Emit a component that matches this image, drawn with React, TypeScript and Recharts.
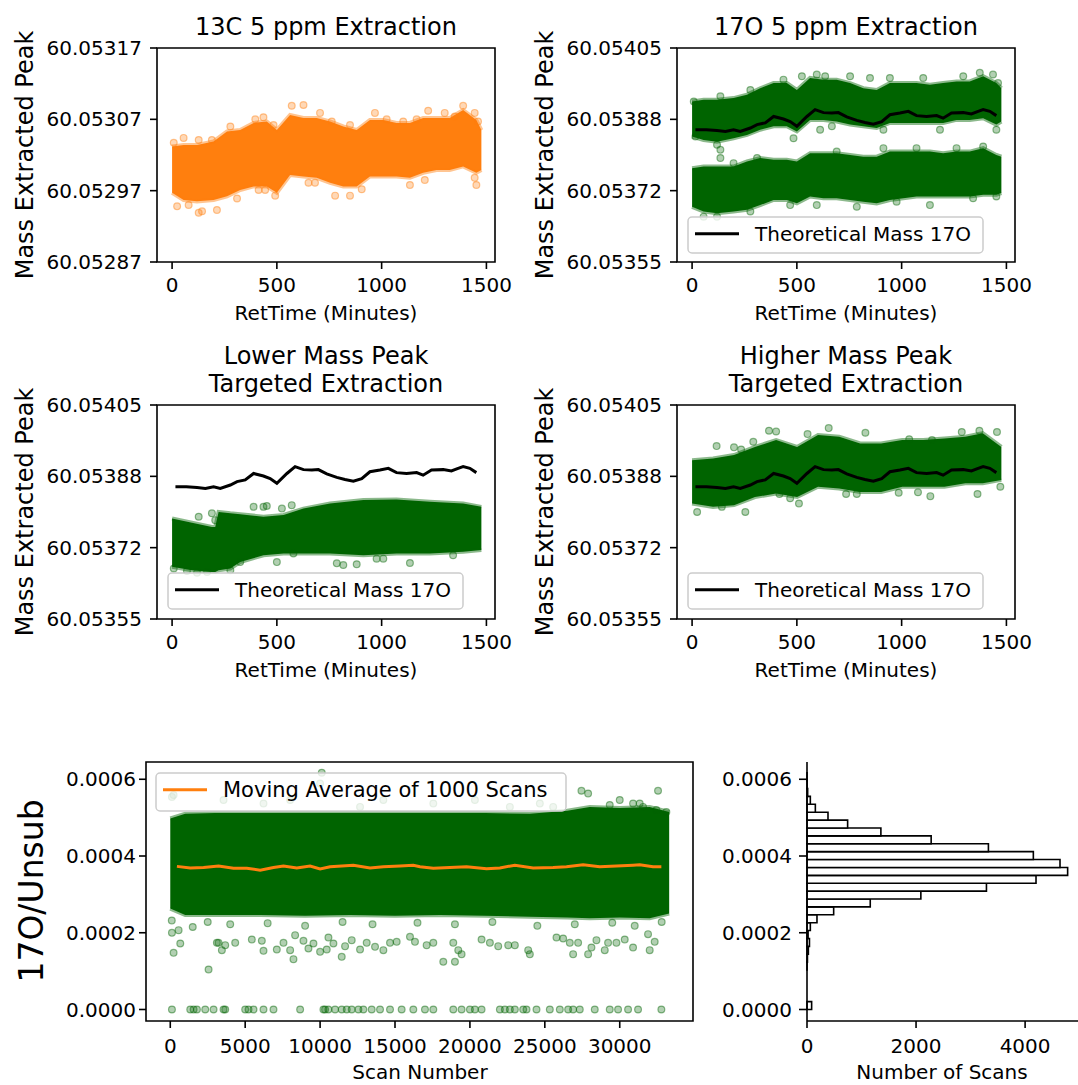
import React from "react";
import {
  Area,
  ComposedChart,
  Line,
  ReferenceArea,
  Scatter,
  XAxis,
  YAxis,
} from "recharts";

const GREEN = "#006400";
const ORANGE = "#ff7f0e";
const FONT = "DejaVu Sans";

// retention time panels
const retDomain: [number, number] = [-72, 1541];
const retTicks = [0, 500, 1000, 1500];
const mass13CDomain: [number, number] = [60.05287, 60.05317];
const mass13CTicks = [60.05287, 60.05297, 60.05307, 60.05317];
const mass17ODomain: [number, number] = [60.05355, 60.05405];
const mass17OTicks = [60.05355, 60.0537167, 60.0538833, 60.05405];

// 13C 5 ppm cloud (dense core edges)
const rt13C = [0, 55, 119, 198, 262, 325, 389, 452, 500, 563, 627, 690, 754, 817, 881, 944, 1008, 1071, 1135, 1198, 1262, 1325, 1389, 1452, 1476];
const hi13C = [60.053032, 60.053034, 60.053034, 60.053039, 60.053053, 60.053055, 60.053065, 60.053067, 60.053055, 60.053076, 60.053072, 60.053072, 60.053067, 60.05306, 60.053055, 60.053069, 60.053069, 60.053065, 60.053065, 60.053072, 60.053072, 60.053072, 60.053083, 60.053069, 60.053055];
const lo13C = [60.052967, 60.052957, 60.052955, 60.052957, 60.052962, 60.052971, 60.052976, 60.052976, 60.052967, 60.052992, 60.05299, 60.052988, 60.052981, 60.052976, 60.052976, 60.05299, 60.05299, 60.05299, 60.052988, 60.052995, 60.052999, 60.052999, 60.053004, 60.052995, 60.052999];
const out13C: [number, number][] = [
  [8, 60.053037], [55, 60.053044], [127, 60.053041], [190, 60.053041], [278, 60.05306], [397, 60.05307],
  [436, 60.053073], [484, 60.053062], [571, 60.053089], [627, 60.05309], [706, 60.053079], [762, 60.053067],
  [849, 60.053062], [968, 60.053079], [1024, 60.05307], [1103, 60.053067], [1167, 60.05307], [1222, 60.053082],
  [1301, 60.053079], [1349, 60.053074], [1389, 60.053089], [1444, 60.053079], [1460, 60.053067],
  [24, 60.052948], [79, 60.05295], [127, 60.052939], [143, 60.052941], [214, 60.052943], [310, 60.052959],
  [413, 60.052971], [444, 60.052971], [492, 60.052963], [651, 60.052981], [682, 60.052981], [778, 60.052963],
  [849, 60.052963], [905, 60.052972], [1135, 60.052978], [1206, 60.052985], [1452, 60.052978], [1444, 60.052988],
];

// 17O 5 ppm: two clouds
const rt17O = rt13C;
const hi17Oup = [60.053925, 60.053929, 60.053929, 60.053933, 60.053941, 60.053956, 60.053968, 60.053968, 60.053952, 60.05398, 60.053976, 60.053976, 60.053968, 60.053956, 60.053952, 60.053968, 60.053968, 60.053968, 60.053964, 60.053968, 60.053972, 60.053972, 60.053984, 60.053968, 60.053956];
const lo17Oup = [60.053843, 60.053835, 60.053831, 60.053839, 60.053847, 60.053859, 60.053867, 60.053867, 60.053855, 60.053882, 60.053882, 60.053878, 60.053871, 60.053867, 60.053863, 60.053875, 60.053875, 60.053875, 60.053875, 60.053875, 60.053882, 60.053882, 60.053886, 60.053871, 60.053878];
const hi17Olow = [60.053769, 60.053773, 60.053773, 60.053773, 60.053785, 60.053793, 60.053789, 60.053789, 60.053785, 60.053804, 60.053804, 60.053804, 60.0538, 60.053796, 60.053796, 60.053808, 60.053808, 60.053808, 60.053808, 60.053804, 60.053808, 60.053808, 60.053816, 60.0538, 60.053796];
const lo17Olow = [60.053679, 60.053668, 60.053664, 60.053668, 60.053672, 60.053683, 60.053695, 60.053695, 60.053687, 60.053703, 60.053699, 60.053699, 60.053695, 60.053691, 60.053687, 60.053695, 60.053699, 60.053703, 60.053703, 60.053703, 60.053703, 60.053703, 60.053707, 60.053707, 60.053711];
const out17O: [number, number][] = [
  [8, 60.053925], [135, 60.053937], [278, 60.053952], [436, 60.053976], [524, 60.053984], [595, 60.053988],
  [635, 60.053984], [754, 60.053984], [849, 60.05398], [944, 60.05398], [1103, 60.05398], [1294, 60.053984],
  [1373, 60.053992], [1436, 60.053988], [1460, 60.053968],
  [16, 60.053843], [119, 60.053824], [135, 60.053812], [135, 60.053793], [484, 60.053839], [611, 60.053859],
  [667, 60.053867], [913, 60.053859], [1183, 60.053859], [1452, 60.053859],
  [198, 60.053781], [310, 60.053793], [690, 60.053808], [913, 60.053816], [1071, 60.053816], [1262, 60.053816], [1389, 60.05382],
  [55, 60.053656], [119, 60.053656], [278, 60.053668], [468, 60.053683], [595, 60.053683], [786, 60.053679],
  [976, 60.053691], [1135, 60.053683], [1341, 60.053699], [1452, 60.053703],
];

// theoretical mass of 17O vs retention time
const theoRt = [16, 68, 119, 159, 198, 230, 278, 310, 349, 389, 436, 468, 500, 548, 587, 627, 667, 698, 738, 786, 825, 865, 905, 944, 992, 1032, 1071, 1119, 1167, 1198, 1238, 1294, 1333, 1365, 1389, 1421, 1452];
const theoMass = [60.053859, 60.053859, 60.053857, 60.053855, 60.053859, 60.053855, 60.053863, 60.053871, 60.053875, 60.05389, 60.053884, 60.053878, 60.053867, 60.05389, 60.053906, 60.053899, 60.053898, 60.053899, 60.053889, 60.053881, 60.053876, 60.053872, 60.053878, 60.053894, 60.053898, 60.053902, 60.053892, 60.05389, 60.053892, 60.053886, 60.053898, 60.053899, 60.053896, 60.053902, 60.053906, 60.053902, 60.053892];

// lower mass peak targeted
const rtLower = [0, 95, 190, 206, 222, 278, 325, 436, 532, 627, 754, 913, 1071, 1230, 1389, 1476];
const hiLower = [60.053785, 60.053775, 60.053765, 60.053765, 60.0538, 60.053797, 60.053795, 60.053789, 60.053793, 60.053808, 60.05382, 60.053828, 60.053829, 60.053824, 60.05382, 60.053812];
const loLower = [60.053672, 60.053664, 60.05366, 60.05366, 60.053664, 60.053668, 60.053683, 60.053699, 60.053703, 60.053703, 60.053703, 60.053699, 60.053703, 60.053703, 60.053707, 60.053711];
const outLower: [number, number][] = [
  [127, 60.053789], [190, 60.053797], [206, 60.053781], [389, 60.053812], [436, 60.053812], [452, 60.053814],
  [524, 60.053808], [571, 60.053816],
  [8, 60.053668], [71, 60.053662], [119, 60.053658], [167, 60.05366], [278, 60.053664], [325, 60.053683],
  [500, 60.053683], [579, 60.053703], [786, 60.05368], [817, 60.053676], [881, 60.053678], [976, 60.053691],
  [1008, 60.053691], [1135, 60.053681], [1341, 60.053699],
];

// higher mass peak targeted
const rtHigher = [0, 100, 200, 300, 401, 501, 601, 702, 802, 902, 1003, 1103, 1204, 1304, 1387, 1476];
const hiHigher = [60.053921, 60.053925, 60.053933, 60.053952, 60.053968, 60.053952, 60.05398, 60.053976, 60.05396, 60.05396, 60.053968, 60.053968, 60.053972, 60.053976, 60.053984, 60.053952];
const loHigher = [60.05382, 60.053812, 60.053816, 60.053835, 60.053843, 60.053835, 60.053859, 60.053855, 60.053847, 60.053847, 60.053859, 60.053859, 60.053859, 60.053867, 60.053867, 60.053875];
const outHigher: [number, number][] = [
  [117, 60.053954], [200, 60.053951], [234, 60.053946], [292, 60.053964], [367, 60.05399], [401, 60.053988],
  [551, 60.053982], [652, 60.053996], [827, 60.053985], [1036, 60.05397], [1145, 60.053968], [1287, 60.053987],
  [1371, 60.05399], [1455, 60.053987],
  [24, 60.0538], [142, 60.053812], [254, 60.0538], [417, 60.053842], [468, 60.053832], [510, 60.05382],
  [735, 60.053842], [786, 60.053842], [986, 60.053845], [1078, 60.053846], [1137, 60.053837], [1362, 60.053842], [1471, 60.053859],
];

// 17O/Unsub vs scan number
const scanDomain: [number, number] = [-1620, 34890];
const scanTicks = [0, 5000, 10000, 15000, 20000, 25000, 30000];
const ratioDomain: [number, number] = [-0.00003, 0.000645];
const ratioTicks = [0, 0.0002, 0.0004, 0.0006];
const scanBand = [0, 1000, 3000, 6000, 9000, 12000, 15000, 18000, 21000, 24000, 26500, 28000, 30000, 32000, 33300];
const ratioHi = [0.000498, 0.00051, 0.000512, 0.000512, 0.000512, 0.000512, 0.000512, 0.000512, 0.000512, 0.00051, 0.000518, 0.000528, 0.000525, 0.000528, 0.000515];
const ratioLo = [0.000263, 0.000246, 0.000246, 0.000246, 0.000244, 0.000246, 0.000244, 0.000246, 0.000244, 0.000242, 0.00024, 0.000238, 0.00024, 0.000238, 0.00025];
const ratioOutliers: [number, number][] = [
  [111, 0.0001997], [222, 0.0001476], [556, 0.0002068], [667, 0.0001721], [2556, 0.0001043], [3111, 0.0001737],
  [3222, 0.0001737], [3444, 0.0001546], [3667, 0.0001677], [4333, 0.0001737], [5444, 0.0001825], [6111, 0.0001789],
  [6222, 0.0001528], [7111, 0.0001565], [7556, 0.0001737], [8000, 0.0001546], [8222, 0.0001312], [8333, 0.0001937],
  [8889, 0.0001789], [9222, 0.0001591], [9556, 0.0001721], [10000, 0.0001502], [10444, 0.0001565], [10556, 0.0001877],
  [10889, 0.0001721], [11444, 0.0001372], [11667, 0.0001651], [12111, 0.0001807], [12667, 0.0001565], [13111, 0.0001737],
  [13667, 0.0001632], [14222, 0.0001546], [14667, 0.0001737], [15111, 0.0001763], [16000, 0.0001893], [16333, 0.0001763],
  [17111, 0.0001677], [17556, 0.0001737], [18222, 0.0001241], [18889, 0.0001737], [19000, 0.0001241], [19222, 0.0001546],
  [19444, 0.0001442], [20778, 0.0001825], [21333, 0.0001737], [21889, 0.0001651], [22556, 0.0001677], [23000, 0.0001677],
  [23889, 0.0001546], [24000, 0.0001442], [25778, 0.0001877], [26222, 0.0001851], [26667, 0.0001737], [26889, 0.0001442],
  [27222, 0.0001737], [27889, 0.0001442], [28111, 0.0001617], [28444, 0.0001807], [29000, 0.0001546], [29222, 0.0001737],
  [29778, 0.0001737], [30333, 0.0001825], [30889, 0.0001617], [31889, 0.0001964], [32000, 0.0001546], [32333, 0.0001763],
  [100, 0.000232], [1500, 0.000215], [2500, 0.000228], [4000, 0.000222], [6500, 0.000225], [9000, 0.000218],
  [11500, 0.000228], [13500, 0.000222], [16500, 0.000226], [19000, 0.000222], [21500, 0.000228], [24500, 0.000218],
  [27000, 0.000222], [29500, 0.000226], [31000, 0.000218], [32800, 0.000228],
  [111, 0.000554], [222, 0.000559], [3556, 0.000546], [6222, 0.000537], [8000, 0.000546], [10000, 0.000589],
  [10111, 0.000617], [12667, 0.000528], [14222, 0.000546], [17556, 0.000537], [20333, 0.000546], [22667, 0.000528],
  [24667, 0.000537], [25556, 0.000528], [27444, 0.00057], [27889, 0.000563], [29333, 0.000533], [30000, 0.000546],
  [30889, 0.000537], [31333, 0.000537], [31556, 0.000528], [32444, 0.00052], [32556, 0.00057], [33111, 0.000515],
];
const zeroScans = [111, 1333, 1556, 1778, 2333, 2889, 3556, 3667, 5000, 5222, 5556, 6222, 6889, 8667, 10222, 10333, 10556, 11000, 11444, 11778, 12111, 12556, 12889, 13444, 14000, 14667, 15444, 16222, 17000, 17556, 18889, 19444, 20000, 20333, 20778, 22000, 22333, 22667, 23000, 23556, 23778, 24444, 25333, 26000, 26556, 26889, 27333, 28333, 29333, 29889, 30556, 31222, 32778];
const maScan = [444, 1333, 2222, 3222, 4222, 5111, 6000, 6889, 7556, 8444, 9333, 10000, 10667, 12222, 13333, 14222, 15333, 16222, 16667, 17556, 18667, 19778, 21111, 22000, 23000, 24222, 25556, 26444, 27556, 28667, 29778, 30889, 31333, 32222, 32778];
const maRatio = [0.000373, 0.000369, 0.00037, 0.000374, 0.000368, 0.000368, 0.000363, 0.00037, 0.000374, 0.000369, 0.000374, 0.000366, 0.000372, 0.000376, 0.000369, 0.000372, 0.000374, 0.000376, 0.000372, 0.000368, 0.00037, 0.000372, 0.000367, 0.000369, 0.000376, 0.000369, 0.00037, 0.000372, 0.000377, 0.000372, 0.000374, 0.000376, 0.000377, 0.000372, 0.000372];

// histogram of 17O/Unsub
const histEdges = [0, 0.0000206, 0.0000411, 0.0000617, 0.0000823, 0.0001028, 0.0001234, 0.000144, 0.0001645, 0.0001851, 0.0002057, 0.0002262, 0.0002468, 0.0002674, 0.0002879, 0.0003085, 0.0003291, 0.0003496, 0.0003702, 0.0003908, 0.0004113, 0.0004319, 0.0004525, 0.000473, 0.0004936, 0.0005142, 0.0005347, 0.0005553, 0.0005759, 0.0005964, 0.000617];
const histCounts = [85, 0, 0, 0, 0, 1, 8, 25, 45, 20, 61, 183, 489, 1160, 2088, 3291, 4200, 4780, 4640, 4151, 3327, 2277, 1355, 745, 385, 153, 61, 12, 3, 1];
const countDomain: [number, number] = [0, 4970];
const countTicks = [0, 2000, 4000];

const band = (t: number[], lo: number[], hi: number[]) => t.map((x, i) => ({ t: x, range: [lo[i], hi[i]] }));
const pts = (p: [number, number][]) => p.map(([t, m]) => ({ t, m }));
const series = (t: number[], m: number[]) => t.map((x, i) => ({ t: x, m: m[i] }));

const theoLine = series(theoRt, theoMass);

const tickLine = { stroke: "#000", strokeWidth: 1.6 };
const tickFont = { fontSize: 20, fill: "#000", fontFamily: FONT };

const dot = (color: string) => (props: any) => (
  <circle
    cx={props.cx}
    cy={props.cy}
    r={3.4}
    fill={color}
    fillOpacity={0.3}
    stroke={color}
    strokeOpacity={0.45}
    strokeWidth={1.2}
  />
);

function MassPanel({
  left,
  top,
  bands,
  outliers,
  line,
  color,
  yDomain,
  yTicks,
}: {
  left: number;
  top: number;
  bands: { t: number; range: number[] }[][];
  outliers: { t: number; m: number }[];
  line?: { t: number; m: number }[];
  color: string;
  yDomain: [number, number];
  yTicks: number[];
}) {
  return (
    <div style={{ position: "absolute", left, top }}>
      <ComposedChart width={520} height={330} margin={{ top: 48, right: 25, bottom: 0, left: 0 }}>
        <XAxis
          type="number"
          dataKey="t"
          domain={retDomain}
          ticks={retTicks}
          interval={0}
          allowDataOverflow
          height={68}
          tickSize={7}
          tickMargin={9}
          axisLine={false}
          tickLine={tickLine}
          tick={tickFont}
        />
        <YAxis
          type="number"
          dataKey="m"
          domain={yDomain}
          ticks={yTicks}
          interval={0}
          allowDataOverflow
          width={157}
          tickSize={7}
          tickMargin={8}
          axisLine={false}
          tickLine={tickLine}
          tick={tickFont}
          tickFormatter={(v: number) => v.toFixed(5)}
        />
        {bands.map((b, i) => (
          <Area
            key={i}
            data={b}
            dataKey="range"
            type="linear"
            fill={color}
            fillOpacity={1}
            stroke={color}
            strokeOpacity={0.45}
            strokeWidth={4}
            dot={false}
            activeDot={false}
            isAnimationActive={false}
          />
        ))}
        <Scatter data={outliers} shape={dot(color)} isAnimationActive={false} />
        {line && (
          <Line
            data={line}
            dataKey="m"
            type="linear"
            stroke="#000"
            strokeWidth={3}
            dot={false}
            activeDot={false}
            isAnimationActive={false}
          />
        )}
        <ReferenceArea
          x1={retDomain[0]}
          x2={retDomain[1]}
          y1={yDomain[0]}
          y2={yDomain[1]}
          fill="none"
          stroke="#000"
          strokeWidth={1.6}
        />
      </ComposedChart>
    </div>
  );
}

function RatioPanel() {
  const outliers = [...pts(ratioOutliers), ...zeroScans.map((t) => ({ t, m: 0 }))];
  return (
    <div style={{ position: "absolute", left: 0, top: 700 }}>
      <ComposedChart width={700} height={385} margin={{ top: 62, right: 7, bottom: 0, left: 0 }}>
        <XAxis
          type="number"
          dataKey="t"
          domain={scanDomain}
          ticks={scanTicks}
          interval={0}
          allowDataOverflow
          height={64}
          tickSize={7}
          tickMargin={11}
          axisLine={false}
          tickLine={tickLine}
          tick={tickFont}
        />
        <YAxis
          type="number"
          dataKey="m"
          domain={ratioDomain}
          ticks={ratioTicks}
          interval={0}
          allowDataOverflow
          width={146}
          tickSize={7}
          tickMargin={3}
          axisLine={false}
          tickLine={tickLine}
          tick={tickFont}
          tickFormatter={(v: number) => v.toFixed(4)}
        />
        <Area
          data={band(scanBand, ratioLo, ratioHi)}
          dataKey="range"
          type="linear"
          fill={GREEN}
          fillOpacity={1}
          stroke={GREEN}
          strokeOpacity={0.45}
          strokeWidth={4}
          dot={false}
          activeDot={false}
          isAnimationActive={false}
        />
        <Scatter data={outliers} shape={dot(GREEN)} isAnimationActive={false} />
        <Line
          data={series(maScan, maRatio)}
          dataKey="m"
          type="linear"
          stroke={ORANGE}
          strokeWidth={3}
          dot={false}
          activeDot={false}
          isAnimationActive={false}
        />
        <ReferenceArea
          x1={scanDomain[0]}
          x2={scanDomain[1]}
          y1={ratioDomain[0]}
          y2={ratioDomain[1]}
          fill="none"
          stroke="#000"
          strokeWidth={1.6}
        />
      </ComposedChart>
    </div>
  );
}

function HistPanel() {
  const centers = histCounts.map((c, i) => ({ count: c, center: (histEdges[i] + histEdges[i + 1]) / 2 }));
  return (
    <div style={{ position: "absolute", left: 700, top: 700 }}>
      <ComposedChart width={378} height={385} margin={{ top: 62, right: 0, bottom: 0, left: 0 }}>
        <XAxis
          type="number"
          dataKey="count"
          domain={countDomain}
          ticks={countTicks}
          interval={0}
          allowDataOverflow
          height={64}
          tickSize={7}
          tickMargin={11}
          axisLine={{ stroke: "#000", strokeWidth: 1.6 }}
          tickLine={tickLine}
          tick={tickFont}
        />
        <YAxis
          type="number"
          dataKey="center"
          domain={ratioDomain}
          ticks={ratioTicks}
          interval={0}
          allowDataOverflow
          width={107}
          tickSize={8}
          tickMargin={7}
          axisLine={{ stroke: "#000", strokeWidth: 1.6 }}
          tickLine={tickLine}
          tick={tickFont}
          tickFormatter={(v: number) => v.toFixed(4)}
        />
        <Scatter data={centers} shape={() => <g />} isAnimationActive={false} />
        {histCounts.map((c, i) =>
          c > 0 ? (
            <ReferenceArea
              key={i}
              x1={0}
              x2={c}
              y1={histEdges[i]}
              y2={histEdges[i + 1]}
              fill="#fff"
              fillOpacity={1}
              stroke="#000"
              strokeWidth={1.6}
            />
          ) : null
        )}
      </ComposedChart>
    </div>
  );
}

function LegendBox({ x, y, w, h, color, text, size }: { x: number; y: number; w: number; h: number; color: string; text: string; size: number }) {
  return (
    <g>
      <rect x={x} y={y} width={w} height={h} rx={4} fill="#fff" fillOpacity={0.8} stroke="#cccccc" strokeWidth={1.5} />
      <line x1={x + 7} x2={x + 51} y1={y + 16.8} y2={y + 16.8} stroke={color} strokeWidth={3} />
      <text x={x + 67} y={y + 23.5} fontSize={size} fill="#000">
        {text}
      </text>
    </g>
  );
}

export default function App() {
  return (
    <div
      style={{
        position: "absolute",
        left: 0,
        top: 0,
        width: 1078,
        height: 1085,
        background: "#fff",
        overflow: "hidden",
        fontFamily: FONT,
      }}
    >
      <MassPanel
        left={0}
        top={0}
        bands={[band(rt13C, lo13C, hi13C)]}
        outliers={pts(out13C)}
        color={ORANGE}
        yDomain={mass13CDomain}
        yTicks={mass13CTicks}
      />
      <MassPanel
        left={520}
        top={0}
        bands={[band(rt17O, lo17Oup, hi17Oup), band(rt17O, lo17Olow, hi17Olow)]}
        outliers={pts(out17O)}
        line={theoLine}
        color={GREEN}
        yDomain={mass17ODomain}
        yTicks={mass17OTicks}
      />
      <MassPanel
        left={0}
        top={357}
        bands={[band(rtLower, loLower, hiLower)]}
        outliers={pts(outLower)}
        line={theoLine}
        color={GREEN}
        yDomain={mass17ODomain}
        yTicks={mass17OTicks}
      />
      <MassPanel
        left={520}
        top={357}
        bands={[band(rtHigher, loHigher, hiHigher)]}
        outliers={pts(outHigher)}
        line={theoLine}
        color={GREEN}
        yDomain={mass17ODomain}
        yTicks={mass17OTicks}
      />
      <RatioPanel />
      <HistPanel />

      <svg
        width={1078}
        height={1085}
        style={{ position: "absolute", left: 0, top: 0, pointerEvents: "none" }}
        fontFamily={FONT}
      >
        <g fontSize={24} textAnchor="middle" fill="#000">
          <text x={326} y={35}>13C 5 ppm Extraction</text>
          <text x={846} y={35}>17O 5 ppm Extraction</text>
          <text x={326} y={364}>Lower Mass Peak</text>
          <text x={326} y={392}>Targeted Extraction</text>
          <text x={846} y={364}>Higher Mass Peak</text>
          <text x={846} y={392}>Targeted Extraction</text>
          <text transform="translate(33,155) rotate(-90)">Mass Extracted Peak</text>
          <text transform="translate(553,155) rotate(-90)">Mass Extracted Peak</text>
          <text transform="translate(33,512) rotate(-90)">Mass Extracted Peak</text>
          <text transform="translate(553,512) rotate(-90)">Mass Extracted Peak</text>
        </g>
        <g fontSize={20} textAnchor="middle" fill="#000">
          <text x={326} y={320}>RetTime (Minutes)</text>
          <text x={846} y={320}>RetTime (Minutes)</text>
          <text x={326} y={677}>RetTime (Minutes)</text>
          <text x={846} y={677}>RetTime (Minutes)</text>
          <text x={420} y={1079}>Scan Number</text>
          <text x={942} y={1079}>Number of Scans</text>
        </g>
        <text transform="translate(43,891) rotate(-90)" fontSize={33} textAnchor="middle" fill="#000">
          17O/Unsub
        </text>
        <LegendBox x={688} y={217} w={295} h={36} color="#000" text="Theoretical Mass 17O" size={20} />
        <LegendBox x={168} y={573} w={295} h={36} color="#000" text="Theoretical Mass 17O" size={20} />
        <LegendBox x={688} y={573} w={295} h={36} color="#000" text="Theoretical Mass 17O" size={20} />
        <LegendBox x={156} y={773} w={410} h={38} color={ORANGE} text="Moving Average of 1000 Scans" size={21} />
      </svg>
    </div>
  );
}
